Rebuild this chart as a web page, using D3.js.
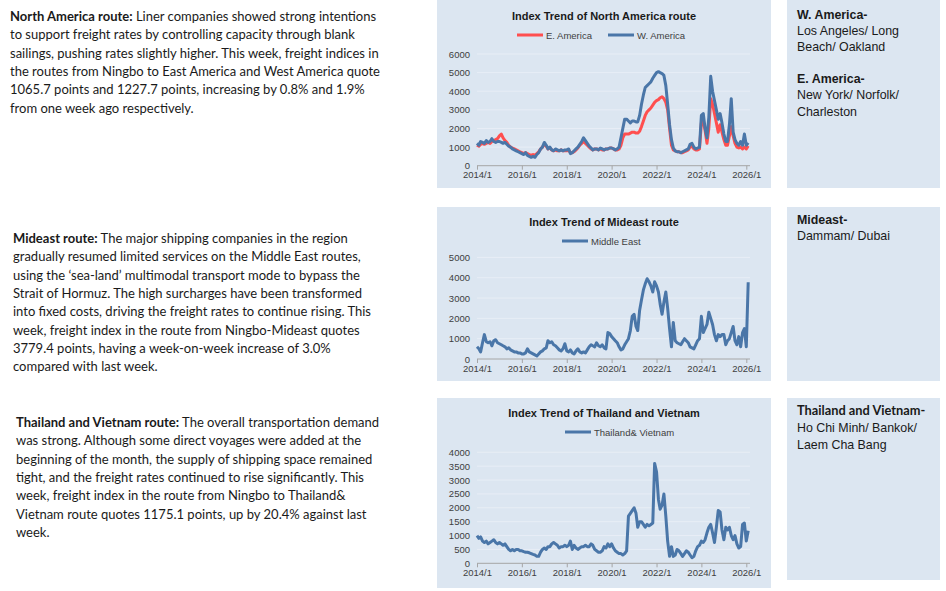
<!DOCTYPE html>
<html>
<head>
<meta charset="utf-8">
<script src="https://cdn.jsdelivr.net/npm/d3@7"></script>
<style>
  body { margin: 0; background: #fff; }
  svg { display: block; }
</style>
</head>
<body>
<div class="board"></div>
<script>
(function() {

  // monthly index values, 2014/1 .. 2026/2
  var eAmerica = [
    1100,1050,1150,1200,1150,1200,1250,1200,1300,1350,1400,1450,
    1600,1700,1500,1350,1250,1100,1000,950,900,850,800,750,
    700,650,700,650,600,550,600,550,650,750,900,1000,
    1150,1050,900,950,850,800,850,800,800,850,800,800,
    800,850,700,700,750,850,950,1100,1200,1300,1200,1100,
    1000,900,850,900,900,850,900,850,850,900,900,950,
    950,900,850,850,900,1100,1500,1700,1700,1700,1750,1800,
    1800,1750,1750,1850,2100,2400,2700,2900,3000,3100,3250,3400,
    3500,3550,3650,3700,3600,3400,3000,2000,1100,850,800,750,
    750,700,700,750,800,850,1000,1050,900,850,850,900,
    2300,2400,1900,1200,2000,3600,3300,2800,2300,1800,2200,1800,
    1400,1100,1100,1600,2100,1600,1200,1000,950,1000,900,1000,
    900,1066
  ];
  var wAmerica = [
    1200,1100,1300,1250,1200,1350,1250,1300,1450,1300,1250,1300,
    1300,1250,1200,1250,1150,1050,1000,900,850,800,750,700,
    650,600,700,550,500,450,500,450,600,700,900,1000,
    1250,1100,900,1000,850,800,900,850,800,850,800,850,
    850,900,650,700,800,900,1000,1150,1300,1500,1350,1200,
    1050,950,850,900,900,850,950,900,850,900,900,950,
    950,900,850,900,1000,1500,2000,2500,2500,2400,2300,2400,
    2400,2350,2350,2700,3300,3800,4200,4300,4400,4500,4700,4850,
    5000,5050,5000,4950,4850,4300,3300,2200,1400,950,800,750,
    750,700,750,800,850,900,1150,1200,1000,900,950,1000,
    2700,2800,2000,1500,2600,4800,4000,3500,3000,2500,2800,2300,
    1700,1300,1300,2200,3600,1800,1400,1200,1100,1300,1100,1700,
    1100,1228
  ];
  var middleEast = [
    600,500,350,800,1200,850,800,850,650,900,950,800,
    750,700,650,600,500,550,450,400,350,350,300,300,
    250,250,300,500,350,300,250,200,150,250,350,400,
    500,550,900,800,850,700,650,550,450,400,500,750,
    400,350,450,300,250,400,500,350,300,350,300,450,
    600,700,650,600,800,650,600,700,550,500,1300,1250,
    1100,1000,900,800,600,450,500,700,850,1000,1400,2100,
    2200,1600,1400,2400,2900,3400,3700,3950,3800,3600,3300,3800,
    3600,3300,2700,2200,2800,3300,2500,1500,600,1800,900,800,
    750,700,850,1000,900,800,600,550,500,700,900,1000,
    2100,1300,1500,1700,2300,2000,1700,1200,900,1200,1100,1200,
    1200,700,900,1000,1300,1600,900,700,1100,600,1300,1500,
    600,3779
  ];
  var thaiVietnam = [
    1000,900,950,800,750,800,700,750,800,850,750,700,
    750,700,650,700,600,500,450,500,450,500,500,450,
    450,420,400,400,380,350,320,300,250,250,400,500,
    550,500,600,600,700,750,700,650,550,600,600,650,
    600,650,800,500,650,550,500,550,600,600,650,600,
    600,700,650,500,450,400,400,450,600,550,700,600,
    700,550,450,400,350,350,300,350,450,1700,1800,1900,
    2000,1800,1300,1500,1500,1400,1300,1400,1350,1400,1450,3600,
    3300,2300,1950,2100,2500,1700,800,250,600,250,300,500,
    450,350,250,350,450,400,300,200,250,450,600,650,
    800,750,850,1100,1300,1400,1100,750,1300,1900,1850,1200,
    850,1300,1200,1300,1000,850,1000,700,550,600,1400,1450,
    800,1175
  ];

  var tickYears = [2014, 2016, 2018, 2020, 2022, 2024, 2026];

  var months = d3.timeMonth.range(new Date(2014, 0, 1), new Date(2026, 2, 1));

  var red = '#ff4f4f';
  var blue = '#4a76a8';
  var panel = '#dce6f1';

  var charts = [
    {
      frame: [437, 0, 334, 188],
      top: 54, bottom: 165.7, yMax: 6000, yStep: 1000,
      title: 'Index Trend of North America route', titleY: 16, legendY: 35,
      series: [
        { name: 'E. America', values: eAmerica, color: red, lx: 517 },
        { name: 'W. America', values: wAmerica, color: blue, lx: 608 }
      ]
    },
    {
      frame: [437, 207, 334, 174],
      top: 257.4, bottom: 359, yMax: 5000, yStep: 1000,
      title: 'Index Trend of Mideast route', titleY: 222, legendY: 241,
      series: [
        { name: 'Middle East', values: middleEast, color: blue, lx: 562 }
      ]
    },
    {
      frame: [437, 398, 334, 190],
      top: 452.3, bottom: 563.3, yMax: 4000, yStep: 500,
      title: 'Index Trend of Thailand and Vietnam', titleY: 413, legendY: 432,
      series: [
        { name: 'Thailand& Vietnam', values: thaiVietnam, color: blue, lx: 565 }
      ]
    }
  ];

  var notes = [
    { x: 10, y: 21, head: 'North America route:', lines: [
      ' Liner companies showed strong intentions',
      'to support freight rates by controlling capacity through blank',
      'sailings, pushing rates slightly higher. This week, freight indices in',
      'the routes from Ningbo to East America and West America quote',
      '1065.7 points and 1227.7 points, increasing by 0.8% and 1.9%',
      'from one week ago respectively.'
    ] },
    { x: 13, y: 243, head: 'Mideast route:', lines: [
      ' The major shipping companies in the region',
      'gradually resumed limited services on the Middle East routes,',
      'using the \u2018sea-land\u2019 multimodal transport mode to bypass the',
      'Strait of Hormuz. The high surcharges have been transformed',
      'into fixed costs, driving the freight rates to continue rising. This',
      'week, freight index in the route from Ningbo-Mideast quotes',
      '3779.4 points, having a week-on-week increase of 3.0%',
      'compared with last week.'
    ] },
    { x: 16, y: 427, head: 'Thailand and Vietnam route:', lines: [
      ' The overall transportation demand',
      'was strong. Although some direct voyages were added at the',
      'beginning of the month, the supply of shipping space remained',
      'tight, and the freight rates continued to rise significantly. This',
      'week, freight index in the route from Ningbo to Thailand&',
      'Vietnam route quotes 1175.1 points, up by 20.4% against last',
      'week.'
    ] }
  ];

  var ports = [
    { box: [787, 0, 153, 188], items: [
      { text: 'W. America-', bold: true, y: 19 },
      { text: 'Los Angeles/ Long', y: 35 },
      { text: 'Beach/ Oakland', y: 51 },
      { text: 'E. America-', bold: true, y: 83 },
      { text: 'New York/ Norfolk/', y: 99 },
      { text: 'Charleston', y: 116 }
    ] },
    { box: [787, 207, 153, 174], items: [
      { text: 'Mideast-', bold: true, y: 224 },
      { text: 'Dammam/ Dubai', y: 240 }
    ] },
    { box: [787, 398, 153, 182], items: [
      { text: 'Thailand and Vietnam-', bold: true, calibri: true, y: 415 },
      { text: 'Ho Chi Minh/ Bankok/', y: 432 },
      { text: 'Laem Cha Bang', y: 449 }
    ] }
  ];

  var board = d3.select('.board')
    .append('svg')
    .attr('width', 946)
    .attr('height', 591);

  var x = d3.scaleTime()
    .domain([new Date(2014, 0, 1), new Date(2026, 0, 1)])
    .range([477, 746.3]);

  charts.forEach(function(c) {
    var g = board.append('g');

    g.append('rect')
      .attr('x', c.frame[0]).attr('y', c.frame[1])
      .attr('width', c.frame[2]).attr('height', c.frame[3])
      .style('fill', panel);

    var y = d3.scaleLinear().domain([0, c.yMax]).range([c.bottom, c.top]);
    var yTicks = d3.range(0, c.yMax + 1, c.yStep);

    g.selectAll('.grid')
      .data(yTicks.slice(1))
      .enter()
      .append('line')
      .attr('x1', 477).attr('x2', 750)
      .attr('y1', function(d) { return y(d); })
      .attr('y2', function(d) { return y(d); })
      .style('stroke', '#e8eef6')
      .style('stroke-width', 1);

    var yAxis = g.append('g')
      .attr('transform', 'translate(477,0)')
      .call(d3.axisLeft(y).tickValues(yTicks).tickFormat(d3.format('d'))
        .tickSize(0).tickPadding(7));
    yAxis.select('.domain').remove();
    yAxis.selectAll('text')
      .style('font-family', 'Liberation Sans, Arial, sans-serif')
      .style('font-size', '9.5px')
      .style('fill', '#404040');

    var xAxis = g.append('g')
      .attr('transform', 'translate(0,' + c.bottom + ')')
      .call(d3.axisBottom(x)
        .tickValues(tickYears.map(function(t) { return new Date(t, 0, 1); }))
        .tickFormat(d3.timeFormat('%Y/%-m'))
        .tickSizeOuter(0)
        .tickSize(4)
        .tickPadding(2));
    xAxis.select('.domain')
      .attr('d', 'M477,0H750')
      .style('stroke', '#a6a6a6');
    xAxis.selectAll('line').style('stroke', '#a6a6a6');
    xAxis.selectAll('text')
      .style('font-family', 'Liberation Sans, Arial, sans-serif')
      .style('font-size', '9.5px')
      .style('fill', '#404040');

    var line = d3.line()
      .x(function(d, i) { return x(months[i]); })
      .y(function(d) { return y(d); });

    g.selectAll('.series')
      .data(c.series)
      .enter()
      .append('path')
      .attr('d', function(s) { return line(s.values); })
      .style('fill', 'none')
      .style('stroke', function(s) { return s.color; })
      .style('stroke-width', 3)
      .style('stroke-linejoin', 'round');

    g.append('text')
      .attr('x', 604).attr('y', c.titleY + 4)
      .text(c.title)
      .style('font-family', 'Liberation Sans, Arial, sans-serif')
      .style('font-weight', 'bold')
      .style('font-size', '11px')
      .style('fill', '#1a1a1a')
      .style('text-anchor', 'middle');

    var leg = g.selectAll('.legend')
      .data(c.series)
      .enter()
      .append('g');
    leg.append('line')
      .attr('x1', function(s) { return s.lx; })
      .attr('x2', function(s) { return s.lx + 26; })
      .attr('y1', c.legendY).attr('y2', c.legendY)
      .style('stroke', function(s) { return s.color; })
      .style('stroke-width', 3);
    leg.append('text')
      .attr('x', function(s) { return s.lx + 29; })
      .attr('y', c.legendY + 3.5)
      .text(function(s) { return s.name; })
      .style('font-family', 'Liberation Sans, Arial, sans-serif')
      .style('font-size', '9.5px')
      .style('fill', '#404040');
  });

  // commentary on the left
  notes.forEach(function(n) {
    var t = board.append('text')
      .attr('x', n.x).attr('y', n.y)
      .style('font-family', 'Lato, sans-serif')
      .style('font-size', '13px')
      .style('fill', '#1a1a1a');
    t.append('tspan')
      .attr('x', n.x).attr('dy', 0)
      .style('font-weight', 'bold')
      .text(n.head);
    t.append('tspan').text(n.lines[0]);
    n.lines.slice(1).forEach(function(l) {
      t.append('tspan').attr('x', n.x).attr('dy', 18.35).text(l);
    });
  });

  // port boxes on the right
  ports.forEach(function(p) {
    board.append('rect')
      .attr('x', p.box[0]).attr('y', p.box[1])
      .attr('width', p.box[2]).attr('height', p.box[3])
      .style('fill', panel);
    board.selectAll(null)
      .data(p.items)
      .enter()
      .append('text')
      .attr('x', 797)
      .attr('y', function(d) { return d.y; })
      .text(function(d) { return d.text; })
      .style('font-family', function(d) { return d.calibri ? 'Lato, sans-serif' : 'Liberation Sans, Arial, sans-serif'; })
      .style('font-weight', function(d) { return d.bold ? 'bold' : 'normal'; })
      .style('font-size', function(d) { return d.calibri ? '12.8px' : '12.4px'; })
      .style('fill', '#1a1a1a');
  });

})();
</script>
</body>
</html>
